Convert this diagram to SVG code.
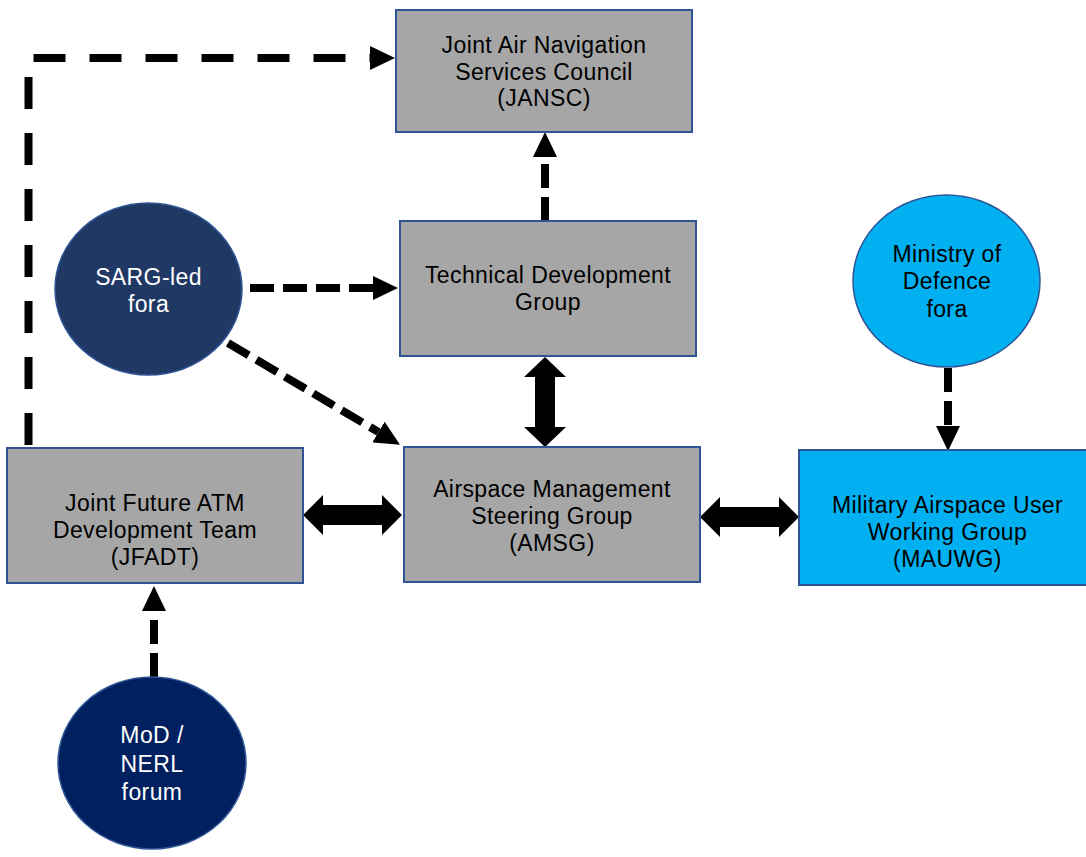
<svg xmlns="http://www.w3.org/2000/svg" width="1086" height="857" viewBox="0 0 1086 857">
<style>
.box{fill:#A6A6A6;stroke:#2F5597;stroke-width:2}
.blue{fill:#00B0F0;stroke:#2F5597;stroke-width:2}
.circ{stroke:#2F5597;stroke-width:1.5}
text{font-family:"Liberation Sans",Arial,sans-serif;font-size:23px;letter-spacing:0.4px;text-anchor:middle}
.dk{fill:#000}
.wt{fill:#fff}
.dash{fill:none;stroke:#000;stroke-width:8}
.d1{stroke-dasharray:32 24}
.d2{stroke-dasharray:24 9}
.blk{fill:#000}
</style>
<defs>
<marker id="ah" markerUnits="userSpaceOnUse" markerWidth="25" markerHeight="24" refX="0" refY="12" orient="auto" viewBox="0 0 25 24">
<path d="M0,0 L25,12 L0,24 z" fill="#000"/>
</marker>
</defs>

<g id="connectors">
<path class="dash d1" d="M28.5,445 L28.5,58 L370,58" marker-end="url(#ah)"/>
<path class="dash d2" d="M545,221 L545,157" marker-end="url(#ah)"/>
<path class="dash d2" d="M250,288 L373,288" marker-end="url(#ah)"/>
<path class="dash d2" d="M228,343 L378.5,432" marker-end="url(#ah)"/>
<path class="dash d2" d="M948,368 L948,426" marker-end="url(#ah)"/>
<path class="dash d2" d="M154,677 L154,611" marker-end="url(#ah)"/>
<polygon class="blk" points="545,357 524,377 535,377 535,427 524,427 545,447 566,427 555,427 555,377 566,377"/>
<polygon class="blk" points="303,515 323,495 323,505 382,505 382,495 402,515 382,535 382,525 323,525 323,535"/>
<polygon class="blk" points="700,517 720,497 720,507 779,507 779,497 799,517 779,537 779,527 720,527 720,537"/>
</g>

<g id="jansc">
<rect class="box" x="396" y="10" width="296" height="122"/>
<text class="dk" x="544" y="53">Joint Air Navigation</text>
<text class="dk" x="544" y="80">Services Council</text>
<text class="dk" x="544" y="106">(JANSC)</text>
</g>

<g id="tdg">
<rect class="box" x="400" y="221" width="296" height="135"/>
<text class="dk" x="548" y="283">Technical Development</text>
<text class="dk" x="548" y="310">Group</text>
</g>

<g id="sarg">
<ellipse class="circ" cx="148.5" cy="289" rx="93.5" ry="86" fill="#203864"/>
<text class="wt" x="148.5" y="285">SARG-led</text>
<text class="wt" x="148.5" y="312">fora</text>
</g>

<g id="mod">
<ellipse class="circ" cx="946.5" cy="281" rx="93.5" ry="86" fill="#00B0F0"/>
<text class="dk" x="947" y="262">Ministry of</text>
<text class="dk" x="947" y="289">Defence</text>
<text class="dk" x="947" y="317">fora</text>
</g>

<g id="jfadt">
<rect class="box" x="7" y="448" width="296" height="135"/>
<text class="dk" x="155" y="511">Joint Future ATM</text>
<text class="dk" x="155" y="538">Development Team</text>
<text class="dk" x="155" y="565">(JFADT)</text>
</g>

<g id="amsg">
<rect class="box" x="404" y="447" width="296" height="135"/>
<text class="dk" x="552" y="497">Airspace Management</text>
<text class="dk" x="552" y="524">Steering Group</text>
<text class="dk" x="552" y="551">(AMSG)</text>
</g>

<g id="mauwg">
<rect class="blue" x="799" y="450" width="300" height="135"/>
<text class="dk" x="947.5" y="513">Military Airspace User</text>
<text class="dk" x="947.5" y="540">Working Group</text>
<text class="dk" x="947.5" y="567">(MAUWG)</text>
</g>

<g id="modnerl">
<ellipse class="circ" cx="152" cy="763" rx="94" ry="86" fill="#002060"/>
<text class="wt" x="152" y="743">MoD /</text>
<text class="wt" x="152" y="772">NERL</text>
<text class="wt" x="152" y="800">forum</text>
</g>
</svg>
